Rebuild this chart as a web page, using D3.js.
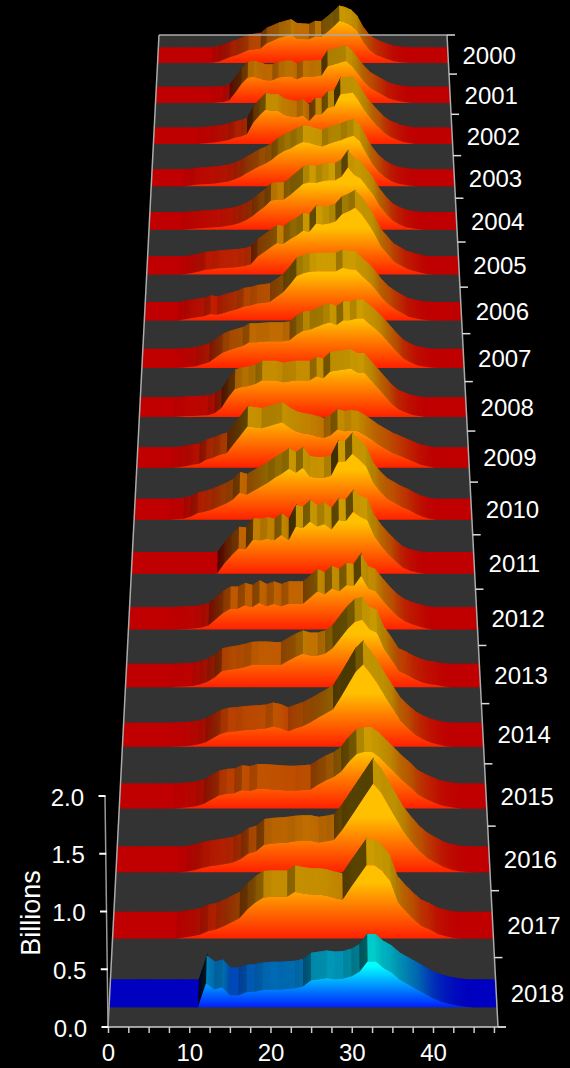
<!DOCTYPE html>
<html><head><meta charset="utf-8">
<script src="https://cdn.jsdelivr.net/npm/d3@7"></script>
<style>html,body{margin:0;padding:0;background:#000;overflow:hidden}text{font-family:"Liberation Sans",Arial,sans-serif;fill:#fff}</style>
</head><body><div id="chart"></div>
<script>
// values in billions; first element is x = 6, anything past the end of a list is 0
const firstX = 6;
const years = [2000,2001,2002,2003,2004,2005,2006,2007,2008,2009,2010,2011,2012,2013,2014,2015,2016,2017,2018];
const xTicks = [0,2.5,5,7.5,10,12.5,15,17.5,20,22.5,25,27.5,30,32.5,35,37.5,40,42.5,45,47.5];
const xLabels = [0,10,20,30,40];
const yTicks = [0,0.5,1,1.5,2];
const v2000=[0,0,0,.002,.015,.04,.07,.09,.12,.15,.16,.17,.23,.26,.29,.31,.33,.285,.28,.275,.31,.305,.36,.42,.49,.47,.44,.37,.24,.15,.1,.07,.045,.02,.01,.003];
const v2001=[0,0,0,0,.005,.01,.03,.12,.22,.29,.3,.28,.26,.26,.29,.3,.305,.27,.3,.3,.305,.31,.42,.44,.46,.48,.42,.33,.24,.17,.13,.09,.05,.03,.015,.005];
const v2002=[0,0,.005,.01,.02,.03,.045,.07,.085,.11,.24,.32,.39,.375,.375,.33,.31,.3,.32,.26,.335,.335,.41,.42,.56,.57,.58,.48,.37,.28,.2,.13,.08,.05,.025,.01];
const v2003=[.005,.015,.02,.025,.03,.04,.05,.07,.1,.14,.18,.22,.25,.29,.35,.39,.42,.46,.49,.48,.46,.44,.47,.49,.51,.54,.56,.5,.37,.25,.16,.1,.055,.03,.015,.005];
const v2004=[.005,.01,.015,.02,.025,.03,.04,.05,.07,.1,.14,.2,.25,.32,.33,.33,.38,.44,.5,.52,.51,.53,.54,.54,.58,.68,.6,.56,.47,.38,.26,.17,.1,.06,.03,.015,.005];
const v2005=[.005,.015,.03,.05,.055,.065,.07,.075,.08,.09,.11,.19,.24,.29,.34,.33,.38,.42,.47,.46,.55,.54,.55,.57,.65,.68,.72,.65,.55,.44,.3,.22,.14,.1,.06,.04,.02,.005];
const v2006=[.01,.025,.035,.045,.07,.06,.08,.1,.12,.15,.16,.18,.19,.2,.25,.3,.38,.47,.5,.52,.525,.525,.525,.525,.56,.545,.54,.47,.41,.33,.24,.17,.12,.08,.04,.025,.01,.003];
const v2007=[.003,.01,.02,.04,.06,.11,.16,.19,.21,.23,.27,.27,.275,.28,.28,.28,.29,.35,.39,.4,.43,.46,.48,.45,.5,.5,.52,.52,.46,.4,.33,.25,.17,.1,.06,.03,.015,.005];
const v2008=[.005,.01,.012,.015,.02,.04,.09,.2,.29,.31,.32,.34,.38,.38,.38,.36,.37,.38,.38,.38,.42,.4,.47,.48,.49,.5,.46,.46,.38,.3,.22,.14,.08,.05,.025,.01];
const v2009=[.005,.015,.03,.04,.08,.1,.13,.15,.24,.33,.42,.41,.4,.42,.44,.46,.41,.37,.35,.34,.32,.3,.33,.39,.37,.38,.37,.33,.28,.23,.19,.15,.12,.09,.06,.03,.015];
const v2010=[.005,.01,.03,.065,.08,.1,.13,.16,.2,.27,.25,.29,.33,.37,.42,.46,.51,.47,.52,.43,.42,.42,.44,.58,.58,.66,.6,.53,.37,.28,.21,.17,.13,.1,.06,.03,.01];
const v2011=[0,0,0,0,0,0,.003,.1,.18,.25,.245,.335,.33,.345,.33,.385,.33,.465,.45,.515,.465,.49,.435,.53,.52,.61,.56,.53,.37,.27,.19,.12,.06,.03,.012];
const v2012=[0,.003,.006,.01,.02,.04,.1,.16,.2,.2,.235,.215,.26,.225,.25,.225,.25,.25,.25,.31,.37,.34,.4,.37,.43,.42,.52,.4,.37,.28,.2,.13,.08,.05,.03,.01];
const v2013=[0,.003,.006,.01,.025,.05,.09,.15,.165,.175,.19,.21,.215,.215,.21,.21,.25,.29,.32,.3,.3,.32,.37,.46,.55,.62,.64,.55,.52,.36,.26,.15,.12,.08,.05,.03,.02,.005];
const v2014=[0,.002,.005,.01,.02,.04,.08,.12,.14,.145,.155,.16,.165,.17,.19,.175,.145,.17,.195,.23,.27,.31,.35,.46,.58,.7,.77,.68,.58,.46,.35,.24,.17,.11,.07,.04,.02,.005];
const v2015=[0,0,.005,.01,.02,.04,.08,.12,.135,.14,.17,.16,.18,.18,.175,.17,.165,.165,.17,.175,.22,.26,.29,.34,.43,.5,.52,.52,.47,.4,.33,.26,.2,.13,.09,.06,.03,.015,.005];
const v2016=[0,0,0,.005,.02,.04,.055,.065,.075,.09,.12,.17,.19,.25,.26,.265,.27,.28,.285,.285,.27,.28,.295,.38,.485,.59,.695,.8,.72,.6,.48,.36,.27,.19,.13,.09,.05,.025,.01,.003];
const v2017=[0,0,0,.01,.02,.035,.065,.08,.11,.145,.18,.26,.32,.365,.37,.37,.37,.415,.4,.39,.39,.38,.36,.345,.45,.55,.65,.65,.6,.51,.32,.24,.17,.11,.08,.04,.02,.005];
const v2018=[0,0,0,0,0,0,.21,.157,.175,.105,.105,.13,.135,.15,.155,.155,.16,.165,.18,.235,.245,.255,.245,.25,.27,.31,.4,.4,.34,.3,.24,.2,.16,.12,.08,.05,.03,.015,.005];
const series=[v2000,v2001,v2002,v2003,v2004,v2005,v2006,v2007,v2008,v2009,v2010,v2011,v2012,v2013,v2014,v2015,v2016,v2017,v2018];
const xGrid=d3.range(0,49);

const W=570,H=1068;
const svg=d3.select('#chart').append('svg').attr('width',W).attr('height',H).style('display','block');
svg.append('rect').attr('width',W).attr('height',H).attr('fill','#000');
const x=d3.scaleLinear().domain([0,48]).range([108,498]);
const y=d3.scaleLinear().domain([0,2]).range([1027,796]);
const cx=(x(0)+x(48))/2, backRatio=288/390, k=1/backRatio-1, backY=35;
const yh=(backY-y(0)*backRatio)/(1-backRatio);
const nCells=years.length;
const depth=(i,f)=>(nCells-1-i+f)/nCells;
const P=(u,d,h)=>{const s=1/(1+k*d);return [cx+(x(u)-cx)*s, yh+(y(0)-yh)*s+(y(h)-y(0))*s];};
const line=pts=>'M'+pts.map(p=>p[0].toFixed(2)+','+p[1].toFixed(2)).join('L')+'Z';

// floor
svg.append('path').attr('d',line([P(0,0,0),P(48,0,0),P(48,1,0),P(0,1,0)])).attr('fill','#333');
const hot={strip:d3.scaleLinear().domain([0,.17,.28,.37,.5]).range(['#c00000','#c05000','#c06c00','#c48c00','#cc9c00']).clamp(true),face:['#ff2000','#ffc000'],top:.5};
const cold={strip:d3.scaleLinear().domain([0,.15,.25,.4]).range(['#0000c0','#0068b4','#0098b8','#00cccc']).clamp(true),face:['#0020ff','#00ffff'],top:.36};
const defs=svg.append('defs');
const shadeOf=dh=>dh>0?1/(1+7*dh+60*dh*dh):1-Math.min(.1,-dh*.6);
const frontF=.28,backF=.68;

years.forEach((yr,i)=>{
  const vals=xGrid.map(u=>{const v=series[i][u-firstX];return v===undefined?0:v;});
  const pal=yr===2018?cold:hot;
  const g=svg.append('g').attr('class','y'+yr);
  const df=depth(i,frontF), db=depth(i,backF);
  // top surface: painted left to right, each piece overlapping under the next to hide seams
  const sub=d3.range(0,6);
  for(let j=0;j<48;j++){
    const dh=vals[j+1]-vals[j], f=shadeOf(dh);
    sub.forEach(q=>{
      const a=q/6,b=(q+1)/6;
      const ha=vals[j]+dh*a,hb=vals[j]+dh*b,um=(ha+hb)/2;
      const c=d3.rgb(pal.strip(um));
      const col=d3.rgb(c.r*f,c.g*f,c.b*f).formatHex();
      const over=(j===47&&q===5)?0:.12;
      g.append('path').attr('d',line([P(j+a,db,ha),P(j+b+over,db,hb+dh*over),P(j+b+over,df,hb+dh*over),P(j+a,df,ha)]))
       .attr('fill',col);
    });
  }
  // front wall
  const id='grad'+yr, base=P(0,df,0)[1], top=P(0,df,pal.top)[1];
  const gr=defs.append('linearGradient').attr('id',id).attr('gradientUnits','userSpaceOnUse')
    .attr('x1',0).attr('x2',0).attr('y1',base).attr('y2',top);
  gr.append('stop').attr('offset',0).attr('stop-color',pal.face[0]);
  gr.append('stop').attr('offset',1).attr('stop-color',pal.face[1]);
  const outline=xGrid.map(u=>P(u,df,vals[u]));
  g.append('path').attr('d',line([P(0,df,0),...outline,P(48,df,0)])).attr('fill',`url(#${id})`);
});

// edges
const edge=(a,b,c='#bbb',w=1.5)=>svg.append('line').attr('x1',a[0]).attr('y1',a[1]).attr('x2',b[0]).attr('y2',b[1]).attr('stroke',c).attr('stroke-width',w);
edge(P(0,0,0),P(0,1,0),'#aaa');edge(P(0,1,0),P(48,1,0),'#aaa');edge(P(48,1,0),P(48,0,0),'#aaa');

// x axis
const xAxis=d3.axisBottom(x).tickValues(xTicks).tickSize(6).tickFormat(d=>xLabels.includes(d)?d:'');
const gx=svg.append('g').attr('transform',`translate(0,${y(0)})`).call(xAxis);
gx.select('.domain').remove();
gx.selectAll('line').attr('stroke','#ccc').attr('stroke-width',1.5);
gx.selectAll('text').attr('font-size',24).attr('y',11).attr('dy','.96em').style('fill','#fff');
edge(P(0,0,0),[x(48)+8,y(0)],'#ccc',1.5);

// year axis (right)
d3.range(0,nCells+1).forEach(c=>{const p=P(48,c/nCells,0);edge(p,[p[0]+8,p[1]],'#ddd',1.5);});
svg.selectAll('text.yr').data(years).join('text').attr('class','yr')
  .attr('x',(d,i)=>P(48,depth(i,.5),0)[0]+14.5).attr('y',(d,i)=>P(48,depth(i,.5),0)[1]+10)
  .attr('font-size',24).text(d=>d);

// value axis (left) leaning slightly with the view
const lean=d3.scaleLinear().domain([0,2]).range([108,105]);
edge([lean(0),y(0)],[lean(2),y(2)],'#999',1.5);
yTicks.forEach(t=>{
  edge([lean(t)-6.5,y(t)],[lean(t)+.5,y(t)],'#fff',2);
  svg.append('text').attr('x',lean(t)-21).attr('y',y(t)+9.5).attr('text-anchor','end').attr('font-size',24).text(d3.format('.1f')(t));
});
svg.append('text').attr('transform',`translate(40,913) rotate(-90)`).attr('text-anchor','middle').attr('font-size',27).text('Billions');
</script></body></html>
